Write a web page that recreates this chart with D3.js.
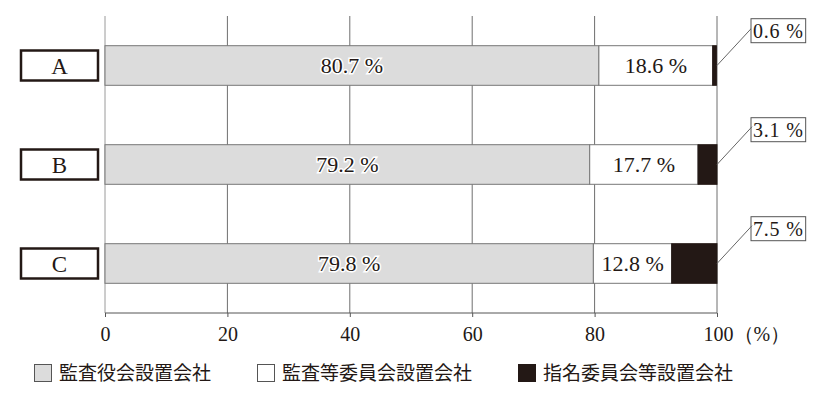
<!DOCTYPE html>
<html><head><meta charset="utf-8">
<script src="https://cdn.jsdelivr.net/npm/d3@7/dist/d3.min.js"></script>
<style>
body{margin:0;background:#fff;}
svg{display:block;}
</style></head>
<body>
<svg id="chart" width="830" height="406"></svg>
<script>
const categories = ["A","B","C"];
const seriesNames = ["監査役会設置会社","監査等委員会設置会社","指名委員会等設置会社"];
const kansayaku = [80.7, 79.2, 79.8];
const kansatou = [18.6, 17.7, 12.8];
const shimei = [0.6, 3.1, 7.5];
const xTicks = [0,20,40,60,80,100];
const xTickLabels = ["0","20","40","60","80","100（%）"];

const ink = "#231815";
const fills = ["#dcdcdc","#ffffff",ink];
const serif = "'Liberation Serif','DejaVu Serif',serif";
const jp = "'Noto Sans CJK JP','Noto Sans CJK SC',sans-serif";

const svg = d3.select("#chart");
const x = d3.scaleLinear().domain([0,100]).range([105,717]);
const y = d3.scaleBand().domain(categories).range([16,313]).paddingInner(0.6).paddingOuter(0.3);

// gridlines
svg.append("g").selectAll("line").data(xTicks).join("line")
  .attr("x1",d=>x(d)).attr("x2",d=>x(d)).attr("y1",16).attr("y2",313)
  .attr("stroke",d=>d===0?"#9a9a9a":"#6e6e6e").attr("stroke-width",1);

// axis
const axis = d3.axisBottom(x).tickValues(xTicks).tickSize(4).tickFormat((d,i)=>xTickLabels[i]);
const ag = svg.append("g").attr("transform","translate(0,313)").call(axis);
ag.select(".domain").attr("stroke","#555").attr("d","M105,0H717");
ag.selectAll(".tick line").attr("stroke","#555");
ag.selectAll(".tick text").attr("font-family",serif).attr("font-size",20).attr("fill",ink).attr("dy","1.05em");
ag.selectAll(".tick text").filter((d)=>d===100).attr("text-anchor","start").attr("dx",-14);

// stacked data
const rows = categories.map((c,i)=>({cat:c, vals:[kansayaku[i],kansatou[i],shimei[i]]}));
const stack = d3.stack().keys([0,1,2]).value((d,k)=>d.vals[k]);
const layers = stack(rows);

layers.forEach((layer,k)=>{
  svg.append("g").selectAll("rect").data(layer).join("rect")
    .attr("x",d=>x(d[0])).attr("width",d=>Math.max(0,x(Math.min(d[1],100))-x(d[0])))
    .attr("y",d=>y(d.data.cat)).attr("height",y.bandwidth())
    .attr("fill",fills[k]).attr("stroke",k===2?ink:"#777").attr("stroke-width",1);
});

// inside labels
[0,1].forEach(k=>{
  svg.append("g").selectAll("text").data(layers[k]).join("text")
    .attr("x",d=>(x(d[0])+x(d[1]))/2).attr("y",d=>y(d.data.cat)+y.bandwidth()/2)
    .attr("dy","0.35em").attr("text-anchor","middle")
    .attr("font-family",serif).attr("font-size",22).attr("fill",ink)
    .attr("stroke","#fff").attr("stroke-width",k===0?3:0).attr("paint-order","stroke")
    .text(d=>d.data.vals[k].toFixed(1)+" %");
});

// callouts for third series
const cg = svg.append("g");
layers[2].forEach(d=>{
  const cy = y(d.data.cat)+y.bandwidth()/2;
  const bx = 751, by = y(d.data.cat)-27, bh = 24;
  const label = d.data.vals[2].toFixed(1)+" %";
  cg.append("line").attr("x1",x(100)).attr("y1",cy).attr("x2",bx+1).attr("y2",by+9)
    .attr("stroke","#666").attr("stroke-width",1);
  const t = cg.append("text").attr("x",bx+2).attr("y",by+bh/2).attr("dy","0.36em")
    .attr("font-family",serif).attr("font-size",20).attr("fill",ink).attr("letter-spacing",0.8)
    .text(label);
  const w = t.node().getComputedTextLength();
  cg.insert("rect","text").attr("x",bx).attr("y",by).attr("width",w+4).attr("height",bh)
    .attr("fill","#fff").attr("stroke","#555").attr("stroke-width",1);
});

// category boxes
const lg = svg.append("g");
categories.forEach(c=>{
  const cy = y(c)+y.bandwidth()/2;
  lg.append("rect").attr("x",21).attr("y",cy-15).attr("width",77).attr("height",30)
    .attr("fill","#fff").attr("stroke",ink).attr("stroke-width",2.5);
  lg.append("text").attr("x",59.5).attr("y",cy).attr("dy","0.36em").attr("text-anchor","middle")
    .attr("font-family",serif).attr("font-size",23).attr("fill",ink).text(c);
});

// legend
const legX = [34,257,518];
const leg = svg.append("g");
seriesNames.forEach((n,i)=>{
  leg.append("rect").attr("x",legX[i]+0.5).attr("y",364.5).attr("width",17).attr("height",17)
    .attr("fill",fills[i]).attr("stroke",i===2?ink:"#555").attr("stroke-width",1);
  leg.append("text").attr("x",legX[i]+25).attr("y",373).attr("dy","0.36em")
    .attr("font-family",jp).attr("font-size",19).attr("fill",ink).text(n);
});
</script>
</body></html>
